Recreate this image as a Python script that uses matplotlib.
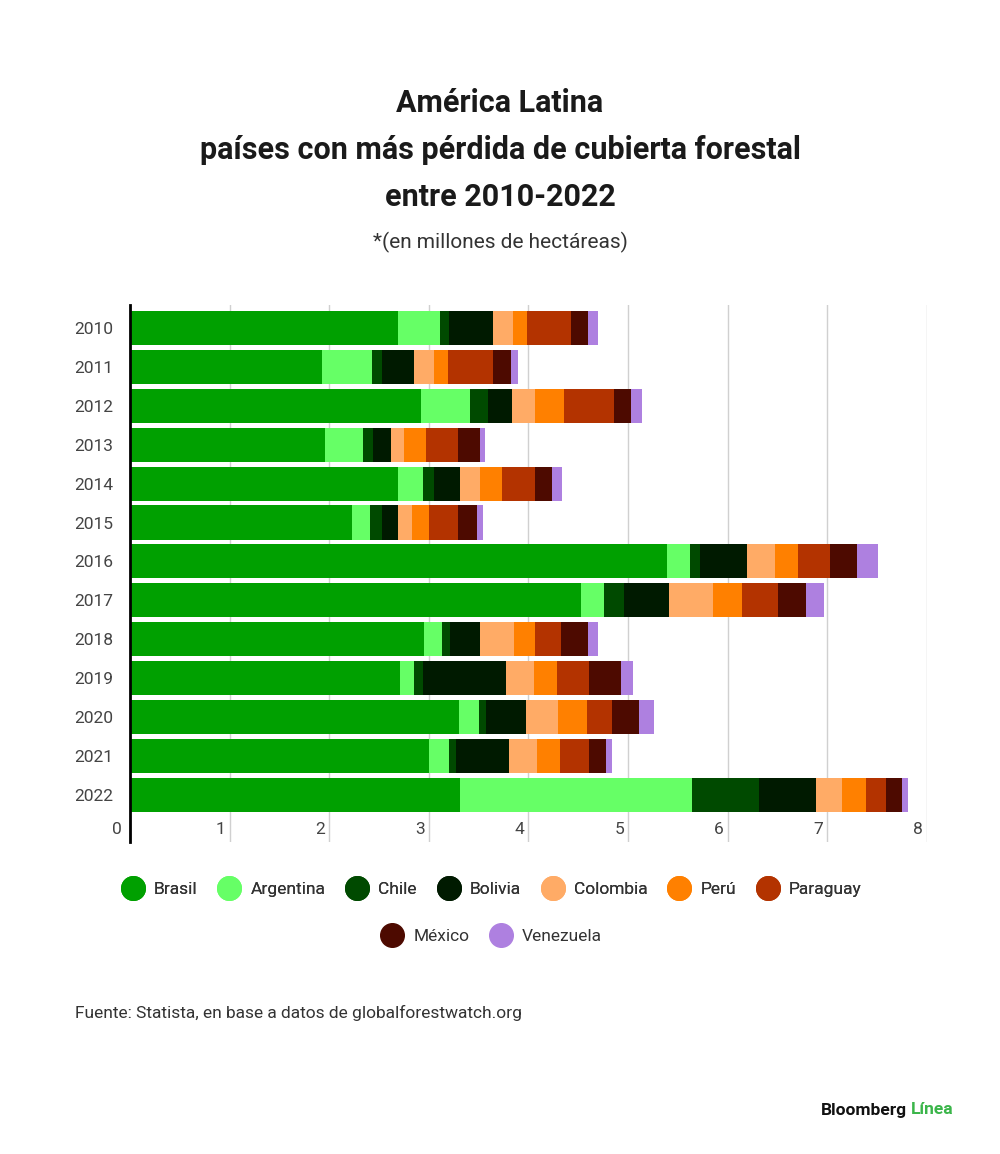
import numpy as np
import matplotlib
matplotlib.use("Agg")
import matplotlib.pyplot as plt
from matplotlib.lines import Line2D

#Data (millones de hectáreas)
years = ["2010", "2011", "2012", "2013", "2014", "2015", "2016",
         "2017", "2018", "2019", "2020", "2021", "2022"]
countries = ["Brasil", "Argentina", "Chile", "Bolivia", "Colombia",
             "Perú", "Paraguay", "México", "Venezuela"]
brasil    = [2.69, 1.93, 2.92, 1.96, 2.69, 2.23, 5.39, 4.53, 2.95, 2.71, 3.30, 3.00, 3.31]
argentina = [0.42, 0.50, 0.49, 0.38, 0.25, 0.18, 0.23, 0.23, 0.18, 0.14, 0.20, 0.20, 2.33]
chile     = [0.09, 0.10, 0.18, 0.10, 0.11, 0.12, 0.10, 0.20, 0.08, 0.09, 0.07, 0.07, 0.68]
bolivia   = [0.44, 0.32, 0.25, 0.18, 0.26, 0.16, 0.47, 0.45, 0.30, 0.84, 0.41, 0.54, 0.57]
colombia  = [0.21, 0.20, 0.23, 0.13, 0.20, 0.14, 0.29, 0.44, 0.35, 0.28, 0.32, 0.28, 0.26]
peru      = [0.14, 0.14, 0.29, 0.22, 0.22, 0.17, 0.23, 0.29, 0.21, 0.23, 0.29, 0.23, 0.24]
paraguay  = [0.44, 0.45, 0.50, 0.32, 0.34, 0.29, 0.32, 0.37, 0.26, 0.32, 0.25, 0.29, 0.20]
mexico    = [0.17, 0.19, 0.17, 0.22, 0.17, 0.19, 0.27, 0.28, 0.27, 0.32, 0.27, 0.17, 0.16]
venezuela = [0.10, 0.07, 0.11, 0.05, 0.10, 0.06, 0.21, 0.18, 0.10, 0.12, 0.15, 0.06, 0.06]
series = [brasil, argentina, chile, bolivia, colombia, peru, paraguay, mexico, venezuela]
colors = ["#00a000", "#66ff66", "#004a00", "#001a00", "#ffab66",
          "#ff8000", "#b33300", "#4d0a00", "#ae80e0"]
xticks = [0, 1, 2, 3, 4, 5, 6, 7, 8]

plt.rcParams["font.family"] = ["Roboto", "DejaVu Sans"]

fig = plt.figure(figsize=(10, 11.54), dpi=100)
ax = fig.add_axes([0.13, 0.2704, 0.7968, 0.4653])

y = np.arange(len(years))
left = np.zeros(len(years))
for vals, col, name in zip(series, colors, countries):
    ax.barh(y, vals, left=left, height=0.875, color=col, label=name, zorder=2)
    left += np.array(vals)

ax.set_xlim(0, 8)
ax.set_ylim(13.21, -0.59)
ax.set_yticks(y)
ax.set_yticklabels(years, fontsize=12.5, color="#444444")
ax.tick_params(axis="y", length=0, pad=12)
ax.set_xticks([])
for t in xticks:
    ax.axvline(t, color="#d0d0d0", lw=1, zorder=1)
    ax.text(t - 0.04 if t > 0 else -0.08, 12.9, str(t), ha="right", va="center",
            fontsize=12.5, color="#444444")
for s in ["top", "right", "bottom"]:
    ax.spines[s].set_visible(False)
ax.spines["left"].set_linewidth(2)
ax.spines["left"].set_color("black")
ax.spines["left"].set_zorder(3)

#Titles
title_lines = ["América Latina", "países con más pérdida de cubierta forestal", "entre 2010-2022"]
for line, ypx in zip(title_lines, [103, 150, 197]):
    fig.text(0.5, 1 - ypx / 1154, line, ha="center", va="center",
             fontsize=22, fontweight="bold", color="#1a1a1a")
fig.text(0.5, 1 - 242 / 1154, "*(en millones de hectáreas)", ha="center", va="center",
         fontsize=15, color="#333333")

#Legend in two rows
handles = [Line2D([], [], marker="o", ls="", markersize=17, color=c, label=n)
           for c, n in zip(colors, countries)]
leg1 = fig.legend(handles=handles[:7], loc="center", bbox_to_anchor=(0.492, 1 - 889 / 1154),
                  ncol=7, frameon=False, fontsize=12.5, handletextpad=0.6,
                  columnspacing=1.25, handlelength=1.2, labelcolor="#333333")
fig.legend(handles=handles[7:], loc="center", bbox_to_anchor=(0.492, 1 - 936 / 1154),
           ncol=2, frameon=False, fontsize=12.5, handletextpad=0.6,
           columnspacing=1.25, handlelength=1.2, labelcolor="#333333")
fig.add_artist(leg1)

#Source and logo
fig.text(0.075, 1 - 1013 / 1154, "Fuente: Statista, en base a datos de globalforestwatch.org",
         ha="left", va="center", fontsize=12.5, color="#333333")
fig.text(0.907, 1 - 1110 / 1154, "Bloomberg", ha="right", va="center",
         fontsize=12.5, fontweight="bold", color="#111111")
fig.text(0.911, 1 - 1110 / 1154, "Línea", ha="left", va="center",
         fontsize=12.5, fontweight="bold", color="#3bb54a")

fig.savefig("out.png", dpi=100, facecolor="white")
